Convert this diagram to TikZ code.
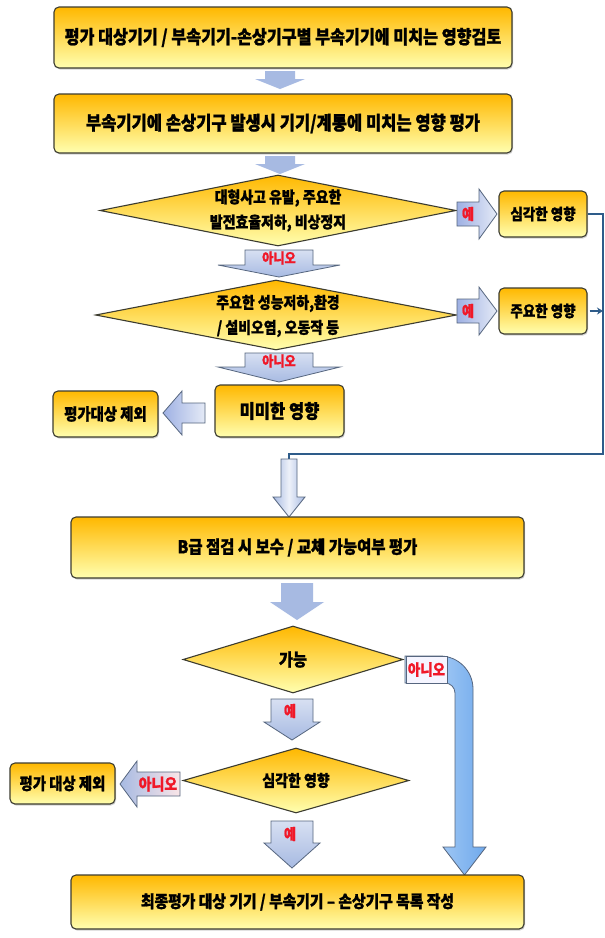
\documentclass[tikz,border=0pt]{standalone}
\usepackage{fontspec}
\newfontfamily\kr{Noto Sans CJK KR}[FakeStretch=0.87,BoldFeatures={FakeBold=1.2}]
\usetikzlibrary{shapes.geometric,shadows,arrows.meta}
\definecolor{boxtop}{HTML}{FFB800}
\definecolor{boxmid}{HTML}{FFF000}
\definecolor{boxbot}{HTML}{FFFFB0}
\definecolor{boxline}{HTML}{3C3C30}
\definecolor{plainarr}{HTML}{A7BAE2}
\definecolor{arrline}{HTML}{56667F}
\definecolor{labred}{HTML}{F01828}
\definecolor{conncol}{HTML}{2E5C8A}
\definecolor{bandlight}{HTML}{C4DEFA}
\definecolor{banddark}{HTML}{6FA9EC}
% block arrow pointing down: style, centre x, top y, head y, tip y, half shaft, half head
\newcommand\blkdown[7]{%
  \path[#1] (#2-#6,#3) -- (#2+#6,#3) -- (#2+#6,#4) -- (#2+#7,#4) -- (#2,#5)
    -- (#2-#7,#4) -- (#2-#6,#4) -- cycle;}
% block arrow pointing sideways: style, tail x, head x, tip x, centre y, half shaft, half head
\newcommand\blkside[7]{%
  \path[#1] (#2,#5-#6) -- (#3,#5-#6) -- (#3,#5-#7) -- (#4,#5) -- (#3,#5+#7)
    -- (#3,#5+#6) -- (#2,#5+#6) -- cycle;}
\begin{document}
\begin{tikzpicture}[x=1pt,y=-1pt,
  kfont/.style={font={\kr\bfseries\fontsize{#1}{#1}\selectfont}},
  dtext/.style={align=center,inner sep=0pt,font={\kr\bfseries\fontsize{#1}{25}\selectfont}},
  box/.style={draw=boxline,line width=1.1pt,rounded corners=5pt,
    top color=boxtop,middle color=boxmid,bottom color=boxbot,inner sep=0pt,align=center,
    drop shadow={shadow xshift=1pt,shadow yshift=-1.5pt,opacity=0.35}},
  dia/.style={shape=diamond,draw=boxline,line width=1.1pt,
    top color=boxtop,middle color=boxmid,bottom color=boxbot,inner sep=0pt},
  plain/.style={fill=plainarr},
  yesright/.style={draw=arrline,line width=0.8pt,left color=plainarr!95!blue,right color=plainarr!30},
  nodown/.style={draw=arrline,line width=0.8pt,top color=plainarr!45,bottom color=plainarr},
  outdown/.style={draw=arrline,line width=0.8pt,left color=plainarr,right color=plainarr,middle color=plainarr!20},
  noleft/.style={draw=arrline,line width=0.8pt,left color=plainarr,right color=plainarr!15!pink!40},
  band/.style={draw=arrline,line width=0.8pt,left color=bandlight,right color=banddark},
  red/.style={text=labred,inner sep=0pt,font={\kr\bfseries\fontsize{14}{14}\selectfont}},
  conn/.style={draw=conncol,line width=1.6pt}]
\useasboundingbox[fill=white] (0,0) rectangle (605,938);

% ---- upper part: impact review ----
\node[box,minimum width=458pt,minimum height=61pt,kfont=18.6] (b1) at (283,37.5)
  {평가 대상기기 / 부속기기-손상기구별 부속기기에 미치는 영향검토};
\blkdown{plain}{280}{71}{79}{89}{15}{25}
\node[box,minimum width=458pt,minimum height=59pt,kfont=19] (b2) at (283,123.5)
  {부속기기에 손상기구 발생시 기기/계통에 미치는 영향 평가};
\blkdown{plain}{280}{156}{164}{174}{15}{25}

\node[dia,minimum width=356pt,minimum height=71pt] (d1) at (278,210.5) {};
\node[dtext=16] (d1t) at (d1.center) {대형사고 유발, 주요한\\발전효율저하, 비상정지};

\blkside{yesright}{457}{479}{497}{214}{12}{25}
\node[red,font={\kr\bfseries\fontsize{15}{15}\selectfont}] (y1) at (468,214) {예};
\node[box,minimum width=88pt,minimum height=46pt,kfont=15.5] (s1) at (543,214) {심각한 영향};

\blkdown{nodown}{279}{250}{265}{277}{34}{61}
\node[red] (n1) at (279,258) {아니오};

\node[dia,minimum width=361pt,minimum height=70pt] (d2) at (276,315) {};
\node[dtext=16] (d2t) at (278,316) {주요한 성능저하,환경\\/ 설비오염, 오동작 등};

\blkside{yesright}{457}{479}{497}{311}{12}{24}
\node[red,font={\kr\bfseries\fontsize{15}{15}\selectfont}] (y2) at (468,311) {예};
\node[box,minimum width=88pt,minimum height=46pt,kfont=15.5] (s2) at (543,311) {주요한 영향};

\blkdown{nodown}{279}{353}{367}{382}{34}{61}
\node[red] (n2) at (279,361) {아니오};

\node[box,minimum width=129pt,minimum height=52pt,kfont=19] (m1) at (279.5,411) {미미한 영향};
\blkside{yesright}{205}{182}{163}{413}{10}{22}
\node[box,minimum width=105pt,minimum height=46pt,kfont=16.5] (e1) at (105.5,414) {평가대상 제외};

% ---- return line from the right-hand boxes ----
\coordinate (rt) at (603,214);
\coordinate (jn) at (289,454);
\draw[conn] (s1.east) -- (rt) -- (rt |- jn) -- (jn) -- ++(0,6);
\draw[conn,-{Stealth[length=6pt,width=7pt]}] (s2.east) ++(2,0) -- (rt |- s2.east);
\blkdown{outdown}{289}{459}{497}{517}{8}{16}

% ---- lower part: repair / replacement ----
\node[box,minimum width=453pt,minimum height=61pt,kfont=17.7] (b3) at (297.5,547.5)
  {B급 점검 시 보수 / 교체 가능여부 평가};
\blkdown{plain}{297}{583}{602}{620}{16}{27}

\node[dia,minimum width=220pt,minimum height=67pt] (d3) at (293,659.5) {};
\node[kfont=17.5,inner sep=0pt] (d3t) at (d3.center) {가능};

% bent "no" arrow down to the final box
\path[band] (405,656) -- (440,656) .. controls (458.2,656) and (473,670.8) .. (473,689)
  -- (473,847) -- (486,847) -- (464.5,875) -- (443,847) -- (455,847) -- (455,693)
  .. controls (455,687.5) and (450.5,683) .. (445,683) -- (405,683) -- cycle;
\node[draw=arrline,line width=0.8pt,fill=blue!4,minimum width=41pt,minimum height=27pt,
  inner sep=0pt] (nobox) at (426.5,669.5) {};
\node[red,font={\kr\bfseries\fontsize{15.5}{15.5}\selectfont}] (n3) at (nobox.center) {아니오};

\blkdown{nodown}{292}{699}{722}{740}{21}{28}
\node[red,font={\kr\bfseries\fontsize{15}{15}\selectfont}] (y3) at (290,711) {예};

\node[dia,minimum width=226pt,minimum height=65pt] (d4) at (296,780.5) {};
\node[kfont=16,inner sep=0pt] (d4t) at (d4.center) {심각한 영향};

\blkside{noleft}{180}{137}{120}{784}{12}{23}
\node[red,font={\kr\bfseries\fontsize{16}{16}\selectfont}] (n4) at (158,784) {아니오};
\node[box,minimum width=105pt,minimum height=41pt,kfont=16.5] (e2) at (62.5,783.5) {평가 대상 제외};

\blkdown{nodown}{292}{821}{843}{868}{21}{28}
\node[red,font={\kr\bfseries\fontsize{15}{15}\selectfont}] (y4) at (290,834) {예};

\node[box,minimum width=453pt,minimum height=54pt,kfont=17] (b4) at (297.5,902)
  {최종평가 대상 기기 / 부속기기 – 손상기구 목록 작성};
\end{tikzpicture}
\end{document}
